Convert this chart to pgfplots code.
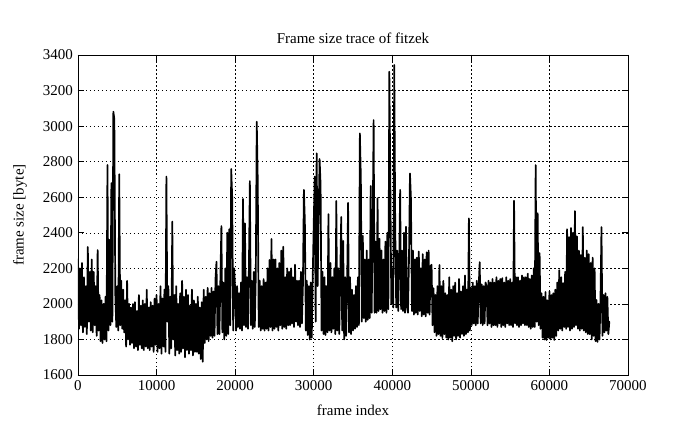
\documentclass[border=0pt]{standalone}
\usepackage{fontspec}
\setmainfont{Liberation Serif}
\usepackage{pgfplots}
\pgfplotsset{compat=1.18}
\usepackage{pgfplotstable}

\pgfplotstableread{
y
2250
1860
2200
1880
2230
1840
2150
1870
2100
1830
2320
1900
2180
1850
2250
1840
2180
1880
2100
1820
2303
1850
2050
1790
2020
1780
2000
1800
2040
1790
2781
1850
2360
1880
2680
1900
3081
3040
2050
1870
2100
1850
2730
1880
2130
1860
2080
1840
2020
1760
2130
1800
2000
1770
1980
1780
2000
1750
2010
1760
1960
1740
2050
1770
1990
1750
2020
1740
2000
1760
2080
1750
1980
1740
2010
1760
1990
1730
2030
1770
2050
1730
2000
1750
2100
1720
2030
1760
2080
1730
2716
1900
2100
1720
2040
1750
2463
1800
2050
1710
2100
1740
2000
1720
2060
1730
2130
1750
2040
1700
2080
1740
2050
1720
1990
1740
2080
1710
2020
1730
2000
1730
2040
1720
1980
1690
2010
1675
2080
1780
2040
1800
2090
1790
2060
1820
2090
1810
2070
1820
2140
2237
1830
2100
1830
2150
2438
1840
2120
1800
2200
1820
2400
1830
2420
1880
2759
2600
1850
2200
2080
1850
2100
1870
2060
1860
2120
1850
2590
1880
2453
1870
2150
1860
2200
2691
1880
2130
1860
2180
1870
2150
3025
2700
1870
2130
1850
2100
1860
2140
1850
2120
1860
2200
1850
2247
1870
2365
1850
2250
1860
2250
1870
2200
1850
2230
1880
2300
1860
2322
1870
2150
1860
2200
1880
2180
1880
2200
1890
2150
1870
2220
1900
2130
1880
2130
1870
2180
1890
2100
2641
2463
1850
2130
1825
2100
1800
2120
1810
2150
2444
2716
1900
2847
2100
2491
2815
2669
1850
2181
1830
2150
1825
2100
1840
2505
1850
2230
1840
2150
1860
2200
1830
2579
1850
2200
1830
2150
2489
1850
2354
1800
2150
1820
2100
2568
1840
2150
1830
2080
1850
2050
1860
2100
1870
2150
1880
2959
2710
1900
2383
1920
2250
1900
2300
1910
2250
1920
2663
1950
2400
3034
1950
2350
1950
2594
1960
2366
1970
2300
1950
2250
1960
2350
1950
2400
1970
3306
2700
2000
2200
1980
3344
2434
1980
2300
1960
2200
2641
1970
2300
1960
2400
1950
2434
1980
1950
2250
2734
2594
1960
2300
1940
2250
1950
2260
1940
2295
1960
2200
1930
2280
1940
2250
1930
2290
1950
2300
1940
2213
2220
1880
2088
1840
2050
1820
2100
1830
2219
1820
2100
1808
2130
1830
2060
1810
2050
1800
2150
1810
2080
1790
2100
1820
2120
1800
2060
1820
2140
1810
2070
1830
2100
1820
2160
1830
2080
1840
2481
1850
2090
1880
2120
1890
2100
1880
2130
1890
2100
2235
1890
2110
1880
2100
1890
2120
2100
1880
2130
1890
2120
1870
2140
1880
2120
1880
2150
1870
2130
1890
2140
1870
2145
1880
2120
1870
2150
1890
2130
1880
2140
1880
2120
1870
2580
1890
2150
1880
2150
1870
2130
1880
2160
1890
2150
1880
2150
1880
2170
1870
2140
1860
2160
1870
2200
1870
2781
1900
2510
1880
2286
1860
2060
1810
2040
1800
2067
1797
2020
1810
2070
1800
2050
1810
2060
1797
2080
1820
2120
1850
2190
1860
2150
1850
2117
1870
2180
1860
2420
1870
2376
1850
2427
1860
2400
1870
2522
1880
2380
1860
2300
1850
2275
1860
2432
1850
2260
1840
2300
1830
2280
1830
2230
1800
2260
1820
2200
1790
2022
1786
2000
1800
2030
2432
1820
2050
1840
2060
1850
2040
1830
1900
}\tracerows

\begin{document}
\fontsize{15bp}{18bp}\selectfont
\begin{tikzpicture}[font=\fontsize{15bp}{18bp}\selectfont]
\path[use as bounding box] (-78bp,-54bp) rectangle (617bp,375bp);
\begin{axis}[
  at={(0,0)}, anchor=south west,
  scale only axis, width=550bp, height=320bp,
  xmin=0, xmax=70000, ymin=1600, ymax=3400,
  xtick={0,10000,20000,30000,40000,50000,60000,70000},
  ytick={1600,1800,2000,2200,2400,2600,2800,3000,3200,3400},
  scaled x ticks=false, scaled y ticks=false,
  /pgf/number format/1000 sep={},
  /pgf/number format/assume math mode=true,
  tick align=inside, major tick length=6bp,
  tick style={black, line width=0.6bp},
  axis line style={black, line width=0.8bp},
  grid=major,
  major grid style={black, line width=0.5bp, dash pattern=on 1.5bp off 2.5bp},
  title={Frame size trace of fitzek},
  xlabel={frame index},
  ylabel={frame size [byte]},
  every axis title/.style={at={(axis description cs:0.5,1)}, yshift=17bp, anchor=center},
  every axis x label/.style={at={(axis description cs:0.5,0)}, yshift=-35bp, anchor=center},
  every axis y label/.style={at={(axis description cs:0,0.5)}, xshift=-58bp, rotate=90, anchor=center},
]
\addplot[black, line width=1.7bp, line join=round, line cap=round] table[x expr=\coordindex*125, y=y] {\tracerows};
\end{axis}
\end{tikzpicture}
\end{document}
